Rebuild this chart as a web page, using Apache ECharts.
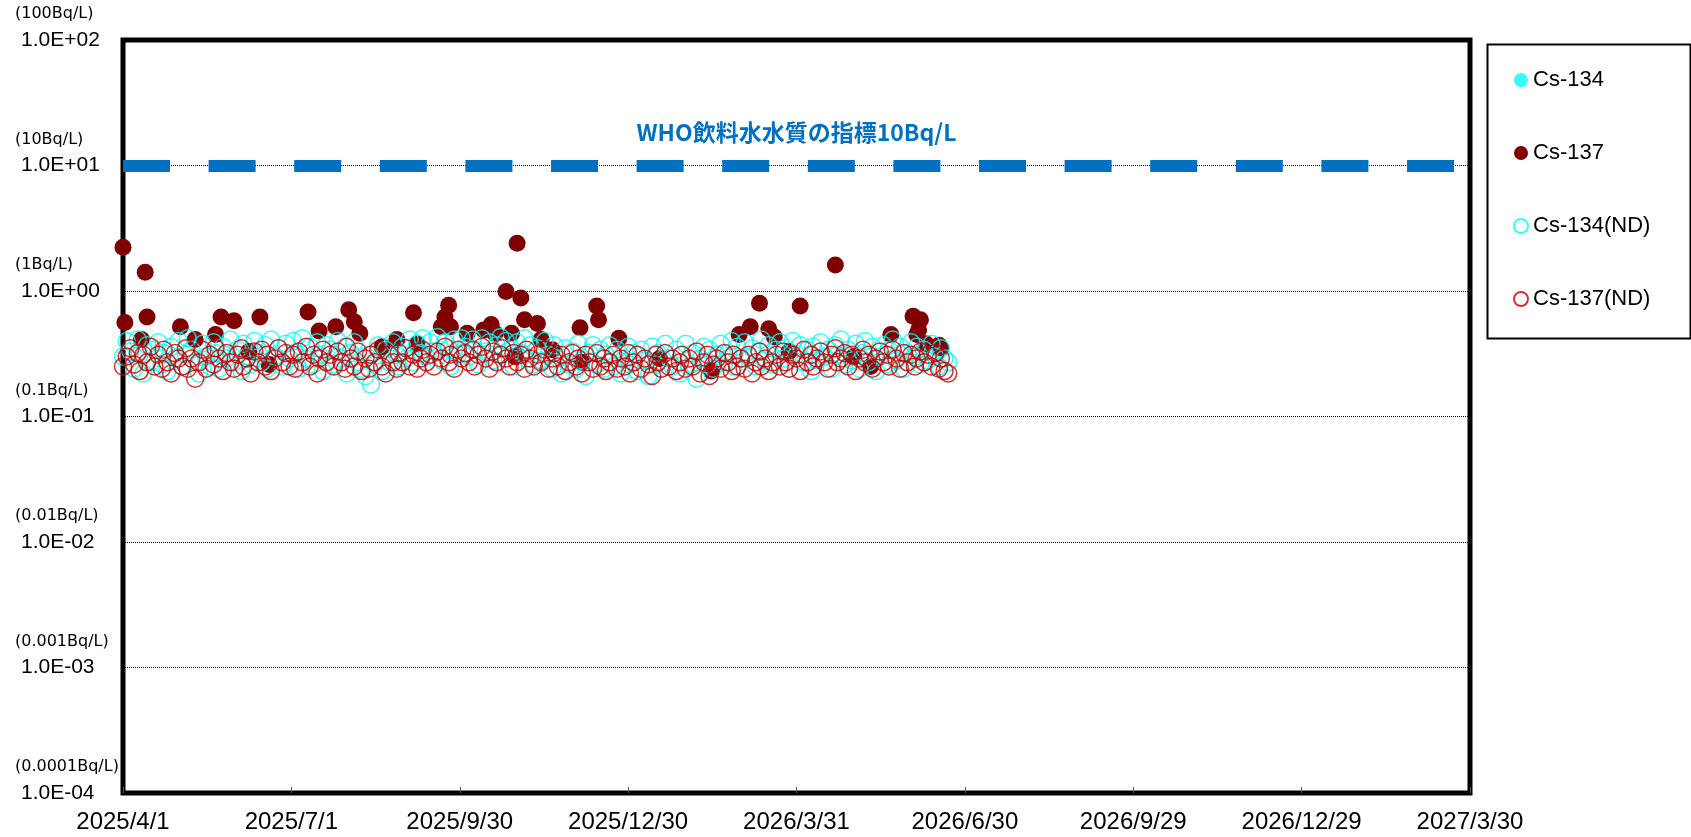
<!DOCTYPE html>
<html>
<head>
<meta charset="utf-8">
<title>Cs-134 / Cs-137</title>
<script src="https://cdn.jsdelivr.net/npm/echarts@6/dist/echarts.min.js"></script>
<style>
  html, body { margin: 0; padding: 0; background: #fff; }
  #chart { width: 1691px; height: 837px; }
</style>
</head>
<body>
<div id="chart"></div>
<script>
// x = days since 2025/4/1, ticks every 91 days
const xTickLabels = ['2025/4/1', '2025/7/1', '2025/9/30', '2025/12/30', '2026/3/31',
  '2026/6/30', '2026/9/29', '2026/12/29', '2027/3/30'];
const yExpLabels = ['1.0E-04', '1.0E-03', '1.0E-02', '1.0E-01', '1.0E+00', '1.0E+01', '1.0E+02'];
const yUnitLabels = ['(0.0001Bq/L)', '(0.001Bq/L)', '(0.01Bq/L)', '(0.1Bq/L)', '(1Bq/L)', '(10Bq/L)', '(100Bq/L)'];

const seriesNames = ['Cs-134', 'Cs-137', 'Cs-134(ND)', 'Cs-137(ND)'];
const whoLimit = 10;
const whoText = 'WHO飲料水水質の指標10Bq/L';

// sampling days (days after 2025/4/1)
const sampleDays = [
  0, 2, 4, 6, 8, 9, 11, 13, 15, 17,
  19, 21, 22, 24, 26, 28, 30, 32, 34, 35,
  37, 39, 41, 43, 45, 47, 49, 50, 52, 54,
  56, 58, 60, 62, 64, 65, 67, 69, 71, 73,
  75, 77, 78, 80, 82, 84, 86, 88, 90, 92,
  93, 95, 97, 99, 101, 103, 105, 106, 108, 110,
  112, 114, 116, 118, 120, 121, 123, 125, 127, 129,
  131, 133, 134, 136, 138, 140, 142, 144, 146, 148,
  149, 151, 153, 155, 157, 159, 161, 162, 164, 166,
  168, 170, 172, 174, 176, 177, 179, 181, 183, 185,
  187, 189, 190, 192, 194, 196, 198, 200, 202, 204,
  205, 207, 209, 211, 213, 215, 217, 218, 220, 222,
  224, 226, 228, 230, 232, 233, 235, 237, 239, 241,
  243, 245, 246, 248, 250, 252, 254, 256, 258, 260,
  261, 263, 265, 267, 269, 271, 273, 274, 276, 278,
  280, 282, 284, 286, 288, 289, 291, 293, 295, 297,
  299, 301, 302, 304, 306, 308, 310, 312, 314, 316,
  317, 319, 321, 323, 325, 327, 329, 330, 332, 334,
  336, 338, 340, 342, 344, 345, 347, 349, 351, 353,
  355, 357, 358, 360, 362, 364, 366, 368, 370, 372,
  373, 375, 377, 379, 381, 383, 385, 386, 388, 390,
  392, 394, 396, 398, 400, 401, 403, 405, 407, 409,
  411, 413, 414, 416, 418, 420, 422, 424, 426, 428,
  429, 431, 433, 435, 437, 439, 441, 442, 444, 446
];

// Cs-134 detection limit (ND) Bq/L
const cs134Nd = [
  0.30, 0.40, 0.33, 0.24, 0.41, 0.31, 0.22, 0.37, 0.27, 0.34,
  0.39, 0.26, 0.32, 0.23, 0.36, 0.29, 0.40, 0.25, 0.31, 0.42,
  0.34, 0.27, 0.22, 0.38, 0.30, 0.25, 0.39, 0.32, 0.24, 0.36,
  0.29, 0.41, 0.27, 0.34, 0.23, 0.38, 0.30, 0.26, 0.40, 0.32,
  0.27, 0.37, 0.24, 0.41, 0.30, 0.35, 0.25, 0.38, 0.29, 0.40,
  0.32, 0.24, 0.42, 0.29, 0.36, 0.26, 0.39, 0.31, 0.23, 0.37,
  0.34, 0.26, 0.40, 0.29, 0.36, 0.22, 0.32, 0.39, 0.27, 0.24,
  0.21, 0.31, 0.18, 0.26, 0.37, 0.23, 0.34, 0.27, 0.39, 0.31,
  0.25, 0.36, 0.29, 0.41, 0.27, 0.38, 0.32, 0.42, 0.30, 0.39,
  0.33, 0.43, 0.28, 0.39, 0.35, 0.25, 0.41, 0.31, 0.42, 0.36,
  0.30, 0.41, 0.34, 0.26, 0.42, 0.33, 0.39, 0.28, 0.37, 0.43,
  0.31, 0.40, 0.34, 0.25, 0.39, 0.32, 0.42, 0.29, 0.37, 0.26,
  0.35, 0.28, 0.40, 0.31, 0.24, 0.37, 0.29, 0.22, 0.35, 0.26,
  0.33, 0.24, 0.38, 0.28, 0.21, 0.32, 0.37, 0.26, 0.34, 0.24,
  0.31, 0.37, 0.25, 0.34, 0.22, 0.29, 0.36, 0.26, 0.32, 0.23,
  0.34, 0.28, 0.21, 0.36, 0.26, 0.32, 0.24, 0.38, 0.29, 0.25,
  0.34, 0.22, 0.31, 0.38, 0.25, 0.32, 0.20, 0.29, 0.36, 0.26,
  0.34, 0.24, 0.31, 0.38, 0.27, 0.32, 0.40, 0.25, 0.36, 0.29,
  0.39, 0.30, 0.35, 0.25, 0.33, 0.41, 0.28, 0.37, 0.26, 0.34,
  0.39, 0.29, 0.35, 0.24, 0.40, 0.31, 0.37, 0.27, 0.34, 0.23,
  0.36, 0.28, 0.39, 0.30, 0.34, 0.24, 0.37, 0.31, 0.41, 0.26,
  0.34, 0.28, 0.38, 0.24, 0.32, 0.40, 0.27, 0.36, 0.23, 0.30,
  0.37, 0.26, 0.34, 0.41, 0.28, 0.36, 0.24, 0.32, 0.39, 0.30,
  0.36, 0.26, 0.34, 0.28, 0.38, 0.30, 0.25, 0.35, 0.29, 0.27
];

// Cs-137 detection limit (ND) Bq/L
const cs137Nd = [
  0.25, 0.30, 0.35, 0.26, 0.32, 0.23, 0.31, 0.27, 0.36, 0.25,
  0.31, 0.24, 0.34, 0.27, 0.22, 0.32, 0.29, 0.25, 0.35, 0.24,
  0.29, 0.20, 0.27, 0.34, 0.24, 0.31, 0.26, 0.35, 0.29, 0.23,
  0.32, 0.27, 0.24, 0.31, 0.35, 0.25, 0.29, 0.22, 0.33, 0.27,
  0.34, 0.25, 0.31, 0.23, 0.29, 0.35, 0.27, 0.32, 0.25, 0.31,
  0.24, 0.33, 0.27, 0.36, 0.25, 0.31, 0.22, 0.29, 0.34, 0.27,
  0.31, 0.25, 0.33, 0.27, 0.24, 0.36, 0.29, 0.25, 0.33, 0.23,
  0.29, 0.24, 0.31, 0.27, 0.34, 0.25, 0.22, 0.31, 0.27, 0.24,
  0.32, 0.27, 0.35, 0.25, 0.31, 0.24, 0.29, 0.34, 0.27, 0.31,
  0.25, 0.33, 0.29, 0.36, 0.27, 0.31, 0.24, 0.34, 0.29, 0.32,
  0.27, 0.34, 0.25, 0.31, 0.36, 0.29, 0.24, 0.33, 0.27, 0.31,
  0.35, 0.29, 0.25, 0.32, 0.27, 0.31, 0.24, 0.34, 0.29, 0.25,
  0.31, 0.27, 0.34, 0.24, 0.29, 0.32, 0.25, 0.31, 0.23, 0.27,
  0.32, 0.25, 0.29, 0.22, 0.31, 0.27, 0.24, 0.32, 0.25, 0.29,
  0.23, 0.27, 0.31, 0.24, 0.29, 0.25, 0.32, 0.22, 0.27, 0.31,
  0.24, 0.29, 0.26, 0.21, 0.31, 0.27, 0.24, 0.32, 0.25, 0.29,
  0.23, 0.27, 0.31, 0.24, 0.29, 0.25, 0.33, 0.22, 0.27, 0.31,
  0.21, 0.26, 0.29, 0.24, 0.32, 0.27, 0.23, 0.31, 0.25, 0.29,
  0.24, 0.31, 0.22, 0.27, 0.33, 0.25, 0.29, 0.23, 0.27, 0.31,
  0.25, 0.33, 0.27, 0.24, 0.31, 0.29, 0.23, 0.34, 0.27, 0.31,
  0.25, 0.29, 0.33, 0.27, 0.24, 0.31, 0.35, 0.27, 0.29, 0.32,
  0.25, 0.31, 0.23, 0.29, 0.34, 0.27, 0.31, 0.24, 0.29, 0.33,
  0.27, 0.31, 0.25, 0.34, 0.29, 0.24, 0.32, 0.27, 0.31, 0.25,
  0.29, 0.33, 0.27, 0.31, 0.25, 0.32, 0.24, 0.29, 0.23, 0.22
];

// Cs-137 detected values
const cs137Days = [
  0, 1, 10, 12, 13, 31, 39, 50, 53, 60,
  68, 74, 79, 100, 106, 115, 122, 125, 128, 140,
  148, 157, 159, 172, 174, 176, 177, 186, 195, 199,
  201, 207, 210, 212, 213, 215, 217, 224, 226, 232,
  247, 248, 256, 257, 268, 290, 318, 333, 339, 344,
  349, 352, 360, 366, 385, 395, 404, 415, 427, 429,
  430, 431, 434, 441, 442
];
const cs137Vals = [
  2.23, 0.56, 0.41, 1.41, 0.62, 0.52, 0.41, 0.45, 0.62, 0.58,
  0.33, 0.62, 0.26, 0.68, 0.48, 0.52, 0.71, 0.57, 0.46, 0.36,
  0.41, 0.67, 0.38, 0.52, 0.62, 0.77, 0.52, 0.46, 0.49, 0.54,
  0.46, 0.99, 0.46, 0.30, 2.40, 0.88, 0.59, 0.55, 0.41, 0.34,
  0.51, 0.27, 0.76, 0.59, 0.42, 0.29, 0.23, 0.45, 0.52, 0.80,
  0.50, 0.43, 0.33, 0.76, 1.61, 0.30, 0.25, 0.45, 0.63, 0.45,
  0.49, 0.59, 0.38, 0.37, 0.35
];
// Cs-134 detected: none in this period
const cs134Days = [];
const cs134Vals = [];

function pairs(days, vals) {
  return days.map((d, i) => [d, vals[i]]);
}

const chart = echarts.init(document.getElementById('chart'));

const option = {
  animation: false,
  backgroundColor: '#fff',
  grid: {
    left: 123,
    top: 40,
    right: 221,
    bottom: 44,
    show: true,
    borderColor: '#000',
    borderWidth: 5,
    backgroundColor: 'transparent'
  },
  legend: {
    orient: 'vertical',
    left: 1513,
    top: 68,
    padding: 0,
    itemGap: 49,
    itemWidth: 14,
    itemHeight: 14,
    data: seriesNames,
    textStyle: {
      fontFamily: 'Liberation Sans',
      fontSize: 22,
      lineHeight: 24,
      color: '#000'
    }
  },
  graphic: [
    {
      type: 'rect',
      left: 1485,
      top: 42,
      shape: { width: 203, height: 294 },
      style: { fill: 'none', stroke: '#000', lineWidth: 2 },
      silent: true
    }
  ],
  xAxis: {
    type: 'value',
    min: 0,
    max: 728,
    interval: 91,
    axisLine: { show: false },
    axisTick: { show: true, inside: true, length: 6, lineStyle: { color: '#555', width: 1 } },
    splitLine: { show: false },
    axisLabel: {
      margin: 17,
      fontFamily: 'Liberation Sans',
      fontSize: 24,
      color: '#000',
      showMinLabel: true,
      showMaxLabel: true,
      formatter: v => xTickLabels[Math.round(v / 91)]
    }
  },
  yAxis: {
    type: 'log',
    logBase: 10,
    min: 0.0001,
    max: 100,
    interval: 1,
    axisLine: { show: false },
    axisTick: { show: false },
    splitLine: { show: true, lineStyle: { color: '#000', width: 1, type: [1, 1] } },
    axisLabel: {
      align: 'left',
      margin: 108,
      formatter: v => {
        const k = Math.round(Math.log10(v)) + 4;
        return '{s|' + yUnitLabels[k] + '}\n{b|' + yExpLabels[k] + '}\n{e| }';
      },
      rich: {
        s: { fontFamily: 'DejaVu Sans', fontSize: 16, lineHeight: 26, color: '#000' },
        b: { fontFamily: 'Liberation Sans', fontSize: 21, lineHeight: 26, color: '#000', padding: [0, 0, 0, 6] },
        e: { fontSize: 10, lineHeight: 26 }
      }
    }
  },
  series: [
    {
      name: seriesNames[0],
      type: 'scatter',
      symbol: 'circle',
      symbolSize: 17,
      itemStyle: { color: '#00FFFF' },
      data: pairs(cs134Days, cs134Vals)
    },
    {
      name: seriesNames[1],
      type: 'scatter',
      symbol: 'circle',
      symbolSize: 17,
      itemStyle: { color: '#800000', opacity: 1 },
      data: pairs(cs137Days, cs137Vals),
      markLine: {
        silent: true,
        symbol: 'none',
        animation: false,
        lineStyle: { color: '#0070C0', width: 12, type: [47, 38.6], opacity: 1 },
        label: {
          show: true,
          position: 'insideMiddleTop',
          distance: 22,
          formatter: whoText,
          color: '#0070C0',
          fontFamily: 'Noto Sans CJK JP',
          fontWeight: 'bold',
          fontSize: 23
        },
        data: [{ yAxis: whoLimit }]
      }
    },
    {
      name: seriesNames[2],
      type: 'scatter',
      symbol: 'circle',
      symbolSize: 17,
      itemStyle: { color: 'rgba(255,255,255,0)', borderColor: '#00FFFF', borderWidth: 1.5 },
      data: pairs(sampleDays, cs134Nd)
    },
    {
      name: seriesNames[3],
      type: 'scatter',
      symbol: 'circle',
      symbolSize: 17,
      itemStyle: { color: 'rgba(255,255,255,0)', borderColor: '#C00000', borderWidth: 1.5 },
      data: pairs(sampleDays, cs137Nd)
    }
  ]
};

chart.setOption(option);
</script>
</body>
</html>
